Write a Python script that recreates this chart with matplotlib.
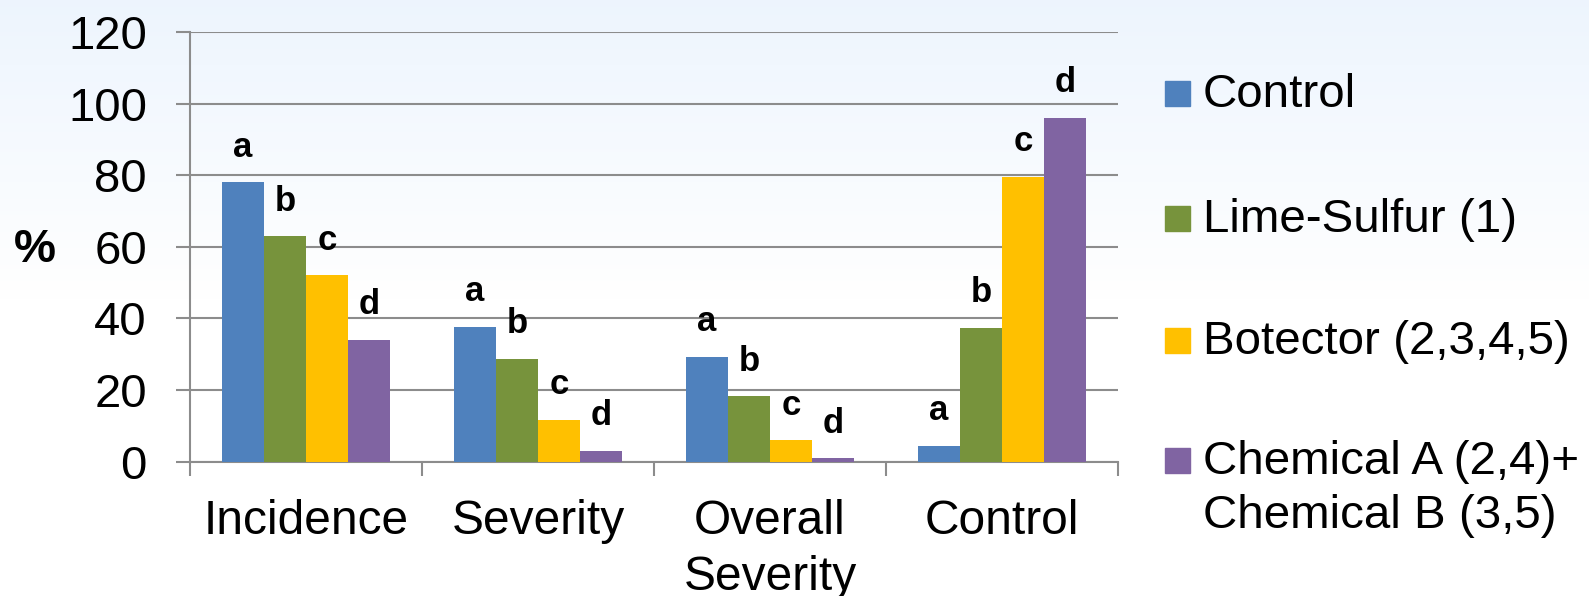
import numpy as np
import matplotlib
matplotlib.use("Agg")
import matplotlib.pyplot as plt
from matplotlib.patches import Rectangle

categories = ["Incidence", "Severity", "Overall\nSeverity", "Control"]
series_names = ["Control", "Lime-Sulfur (1)", "Botector (2,3,4,5)",
                "Chemical A (2,4)+\nChemical B (3,5)"]
control_vals = [78, 37.6, 29.3, 4.4]
lime_vals = [63, 28.7, 18.3, 37.4]
botector_vals = [52, 11.7, 6.0, 79.6]
chem_vals = [34, 3.1, 1.0, 96]
letters = ["a", "b", "c", "d"]
yticks = [0, 20, 40, 60, 80, 100, 120]
colors = ["#4F81BD", "#77933C", "#FFC000", "#8064A2"]

plt.rcParams['font.family'] = ['Liberation Sans', 'DejaVu Sans']

W, H = 1589, 596
fig = plt.figure(figsize=(W / 100, H / 100), dpi=100)

# background gradient
bg = fig.add_axes([0, 0, 1, 1], zorder=-10)
grad = np.ones((200, 1, 3))
t = np.linspace(0, 1, 200)
top = np.array([0.93, 0.96, 0.995])
w = np.clip(t / 0.5, 0, 1)[:, None]
grad[:, 0, :] = top * (1 - w) + np.array([1, 1, 1]) * w
bg.imshow(grad, aspect='auto', extent=[0, 1, 0, 1], origin='upper')
bg.axis('off')

ax = fig.add_axes([190 / W, 1 - 461.7 / H, (1118 - 190) / W, (461.7 - 32) / H])
ax.patch.set_alpha(0)

all_vals = [control_vals, lime_vals, botector_vals, chem_vals]
n = len(categories)
x = np.arange(n)
bw = 0.181
for i, vals in enumerate(all_vals):
    pos = x + (i - 1.5) * bw
    ax.bar(pos, vals, width=bw, color=colors[i], edgecolor='none', zorder=3)
    for p, v in zip(pos, vals):
        ax.text(p, v + 9.8, letters[i], ha='center', va='center',
                fontsize=25, fontweight='bold', zorder=4)

ax.set_xlim(-0.5, n - 0.5)
ax.set_ylim(0, 120)
ax.set_yticks(yticks)
ax.set_yticklabels([str(v) for v in yticks], fontsize=34)
ax.yaxis.grid(True, color='#8c8c8c', linewidth=1.5, zorder=0)
ax.tick_params(axis='y', length=10, width=1.5, color='#8c8c8c', pad=21)

ax.set_xticks(x)
ax.set_xticklabels(categories, fontsize=34.5, linespacing=1.3)
ax.set_xticks(np.arange(-0.5, n, 1.0), minor=True)
ax.tick_params(axis='x', which='major', length=0, pad=27)
ax.tick_params(axis='x', which='minor', length=10, width=1.5, color='#8c8c8c')

for s in ['top', 'right']:
    ax.spines[s].set_visible(False)
for s in ['left', 'bottom']:
    ax.spines[s].set_color('#8c8c8c')
    ax.spines[s].set_linewidth(1.5)

fig.text(35 / W, 1 - 250 / H, "%", fontsize=34, fontweight='bold',
         ha='center', va='center')

# legend
leg_y = [93, 218, 340, 460]
for i, name in enumerate(series_names):
    yc = leg_y[i]
    fig.patches.append(Rectangle((1165 / W, 1 - (yc + 12.5) / H), 25 / W, 25 / H,
                                 transform=fig.transFigure, color=colors[i]))
    fig.text(1203 / W, 1 - (yc - 20) / H, name, fontsize=34.2, ha='left', va='top',
             linespacing=1.29)

fig.savefig("out.png", dpi=100)
